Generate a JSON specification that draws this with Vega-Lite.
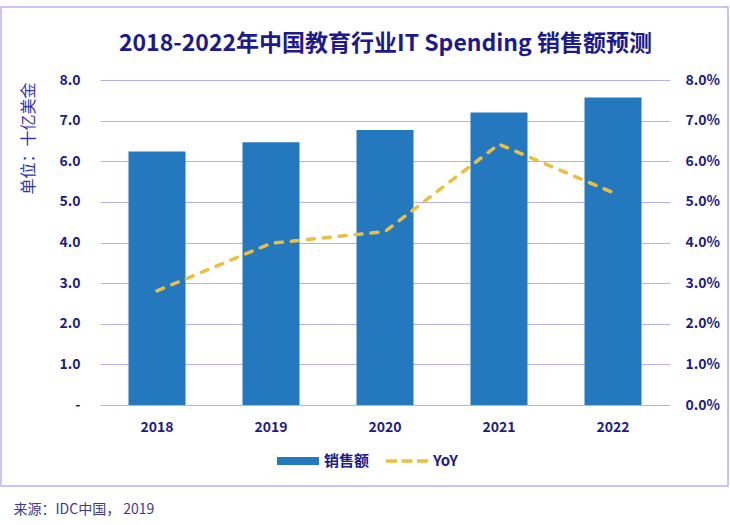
{
  "$schema": "https://vega.github.io/schema/vega-lite/v6.json",
  "width": 727,
  "height": 479,
  "autosize": {"type": "none"},
  "padding": {"left": 1, "top": 7, "right": 2, "bottom": 39},
  "background": "white",
  "config": {
    "font": "Noto Sans CJK SC",
    "view": {"stroke": "#b8b4ef", "strokeWidth": 1.5},
    "axis": {"labelFont": "Noto Sans CJK SC", "titleFont": "Noto Sans CJK SC"}
  },
  "title": {
    "text": "2018-2022年中国教育行业IT Spending 销售额预测",
    "font": "Noto Sans CJK SC",
    "fontSize": 23,
    "fontWeight": "bold",
    "color": "#1c1a8c",
    "anchor": "middle",
    "frame": "group",
    "baseline": "alphabetic",
    "offset": -67,
    "dx": 21
  },
  "data": {
    "values": [
      {"year": "2018", "sales": 6.24, "yoy": 0.0281},
      {"year": "2019", "sales": 6.47, "yoy": 0.0398},
      {"year": "2020", "sales": 6.77, "yoy": 0.0427},
      {"year": "2021", "sales": 7.20, "yoy": 0.0642},
      {"year": "2022", "sales": 7.57, "yoy": 0.0523}
    ]
  },
  "layer": [
    {
      "mark": {"type": "bar"},
      "encoding": {
        "x": {
          "field": "year",
          "type": "nominal",
          "sort": null,
          "scale": {"range": [99, 669], "paddingInner": 0.5, "paddingOuter": 0.25},
          "axis": {
            "title": "来源：IDC中国， 2019",
            "titleFontSize": 14,
            "titleFontWeight": "normal",
            "titleColor": "#3b3a9c",
            "titleAnchor": "start",
            "titleAlign": "left",
            "titleBaseline": "middle",
            "titleAngle": 0,
            "titleX": 12,
            "titleY": 104,
            "labelAngle": 0,
            "labelFontSize": 14,
            "labelFontWeight": "bold",
            "labelColor": "#1c1a8c",
            "labelBaseline": "middle",
            "labelPadding": 22,
            "ticks": false,
            "domain": false,
            "grid": false,
            "offset": -81
          }
        },
        "y": {
          "field": "sales",
          "type": "quantitative",
          "scale": {"domain": [0, 8], "range": [398, 73], "nice": false, "zero": true},
          "axis": {
            "orient": "left",
            "values": [0, 1, 2, 3, 4, 5, 6, 7, 8],
            "labelExpr": "datum.value === 0 ? '-' : format(datum.value, '.1f')",
            "labelFontSize": 14,
            "labelFontWeight": "bold",
            "labelColor": "#1c1a8c",
            "labelPadding": 20,
            "ticks": false,
            "domain": false,
            "grid": true,
            "gridColor": "#b5b1ef",
            "gridWidth": 1,
            "offset": -99,
            "title": "单位：十亿美金",
            "titleFontSize": 16,
            "titleFontWeight": "normal",
            "titleColor": "#3434ad",
            "titleAngle": -90,
            "titleAlign": "right",
            "titleBaseline": "middle",
            "titleX": -72,
            "titleY": 75
          }
        },
        "color": {
          "datum": "销售额",
          "type": "nominal",
          "scale": {"domain": ["销售额", "YoY"], "range": ["#2378be", "#ecc03e"]},
          "legend": {
            "title": null,
            "orient": "none",
            "direction": "horizontal",
            "legendX": 276,
            "legendY": 433,
            "padding": 0,
            "symbolSize": 1764,
            "labelOffset": 5,
            "columnPadding": 16,
            "labelFont": "Noto Sans CJK SC",
            "labelFontSize": 15,
            "labelFontWeight": "bold",
            "labelColor": "#1c1a8c",
            "encode": {
              "symbols": {
                "update": {
                  "shape": {"signal": "datum.value === 'YoY' ? 'M-1,-0.085H-0.476V0.085H-1Z M-0.262,-0.085H0.262V0.085H-0.262Z M0.476,-0.085H1V0.085H0.476Z' : 'M-1,-0.19H1V0.19H-1Z'"},
                  "fill": {"scale": "color", "field": "value"},
                  "stroke": {"value": "transparent"},
                  "strokeWidth": {"value": 0},
                  "opacity": {"value": 1},
                  "size": {"value": 1764}
                }
              }
            }
          }
        }
      }
    },
    {
      "mark": {"type": "line", "strokeWidth": 3.5, "strokeDash": [7, 9], "strokeCap": "round"},
      "encoding": {
        "x": {"field": "year", "type": "nominal", "sort": null},
        "y": {
          "field": "yoy",
          "type": "quantitative",
          "scale": {"domain": [0, 0.08], "range": [398, 73], "nice": false, "zero": true},
          "axis": {
            "orient": "right",
            "values": [0, 0.01, 0.02, 0.03, 0.04, 0.05, 0.06, 0.07, 0.08],
            "format": ".1%",
            "labelFontSize": 14,
            "labelFontWeight": "bold",
            "labelColor": "#1c1a8c",
            "labelPadding": 15,
            "ticks": false,
            "domain": false,
            "grid": false,
            "offset": -58,
            "title": null
          }
        },
        "color": {"datum": "YoY", "type": "nominal"}
      }
    }
  ],
  "resolve": {"scale": {"y": "independent"}}
}
